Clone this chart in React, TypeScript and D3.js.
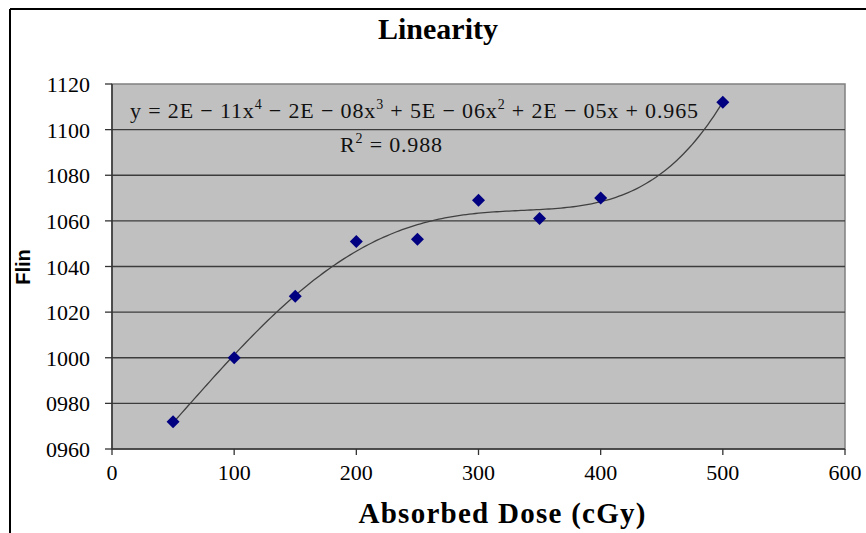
import { useMemo } from "react";
import * as d3 from "d3";

const W = 866, H = 533;
const M = { left: 112, top: 84, right: 845, bottom: 449 };

const doses = [50, 100, 150, 200, 250, 300, 350, 400, 500];
const flin = [972, 1000, 1027, 1051, 1052, 1069, 1061, 1070, 1112];
const xTicks = [0, 100, 200, 300, 400, 500, 600];
const yTicks = [960, 980, 1000, 1020, 1040, 1060, 1080, 1100, 1120];

const SERIF = "'Liberation Serif', 'Times New Roman', serif";
const SANS = "'Liberation Sans', Arial, sans-serif";

// least squares polynomial trendline (degree 4), x scaled by 1/100 for conditioning
function polyFit(xs: number[], ys: number[], deg: number) {
  const n = deg + 1;
  const A: number[][] = Array.from({ length: n }, () => new Array(n + 1).fill(0));
  xs.forEach((x0, k) => {
    const x = x0 / 100;
    for (let i = 0; i < n; i++) {
      for (let j = 0; j < n; j++) A[i][j] += Math.pow(x, i + j);
      A[i][n] += Math.pow(x, i) * ys[k];
    }
  });
  for (let c = 0; c < n; c++) {
    let p = c;
    for (let r = c + 1; r < n; r++) if (Math.abs(A[r][c]) > Math.abs(A[p][c])) p = r;
    [A[c], A[p]] = [A[p], A[c]];
    for (let r = 0; r < n; r++) {
      if (r === c) continue;
      const f = A[r][c] / A[c][c];
      for (let k = c; k <= n; k++) A[r][k] -= f * A[c][k];
    }
  }
  const coef = A.map((row, i) => row[n] / row[i]);
  return (x0: number) => coef.reduce((s, c, i) => s + c * Math.pow(x0 / 100, i), 0);
}

export default function App() {
  const x = d3.scaleLinear([0, 600], [M.left, M.right]);
  const y = d3.scaleLinear([960, 1120], [M.bottom, M.top]);
  const fit = useMemo(() => polyFit(doses, flin, 4), []);
  const trend = d3.range(50, 500.01, 2.5);
  const line = d3.line<number>().x((d) => x(d)).y((d) => y(fit(d)));
  const fmtY = d3.format("04d");
  const diamond = (cx: number, cy: number, r = 6.5) =>
    `M${cx},${cy - r}L${cx + r},${cy}L${cx},${cy + r}L${cx - r},${cy}Z`;

  return (
    <svg width={W} height={H} style={{ position: "absolute", left: 0, top: 0, background: "#fff" }}>
      {/* outer frame (cropped) */}
      <line x1={10} y1={9} x2={W} y2={9} stroke="#000" strokeWidth={2} />
      <line x1={10} y1={9} x2={10} y2={H} stroke="#000" strokeWidth={2} />

      <text x={438} y={39} textAnchor="middle" fontFamily={SERIF} fontWeight="bold" fontSize={30}>
        Linearity
      </text>

      {/* plot area */}
      <rect x={M.left} y={M.top} width={M.right - M.left} height={M.bottom - M.top} fill="#c0c0c0" stroke="#808080" strokeWidth={1.5} />
      {yTicks.slice(1, -1).map((t) => (
        <line key={t} x1={M.left} x2={M.right} y1={y(t)} y2={y(t)} stroke="#3c3c3c" strokeWidth={1.3} />
      ))}

      {/* axes */}
      <line x1={M.left} x2={M.left} y1={M.top} y2={M.bottom} stroke="#333" strokeWidth={1.5} />
      <line x1={M.left} x2={M.right} y1={M.bottom} y2={M.bottom} stroke="#333" strokeWidth={1.5} />
      {yTicks.map((t) => (
        <g key={t}>
          <line x1={M.left - 7} x2={M.left} y1={y(t)} y2={y(t)} stroke="#333" strokeWidth={1.3} />
          <text x={90} y={y(t) + 8} textAnchor="end" fontFamily={SERIF} fontSize={22}>
            {fmtY(t)}
          </text>
        </g>
      ))}
      {xTicks.map((t) => (
        <g key={t}>
          <line x1={x(t)} x2={x(t)} y1={M.bottom} y2={M.bottom + 6} stroke="#333" strokeWidth={1.3} />
          <text x={x(t)} y={480} textAnchor="middle" fontFamily={SERIF} fontSize={22}>
            {t}
          </text>
        </g>
      ))}

      {/* trendline */}
      <path d={line(trend) ?? ""} fill="none" stroke="#404040" strokeWidth={1.3} />

      {/* points */}
      {doses.map((d, i) => (
        <path key={d} d={diamond(x(d), y(flin[i]))} fill="#000080" />
      ))}

      {/* equation */}
      <text x={130} y={118} fontFamily={SERIF} fontSize={22} fill="#111" textLength={568} lengthAdjust="spacing">
        y = 2E − 11x<tspan fontSize={14} dy={-9}>4</tspan>
        <tspan dy={9}> − 2E − 08x</tspan><tspan fontSize={14} dy={-9}>3</tspan>
        <tspan dy={9}> + 5E − 06x</tspan><tspan fontSize={14} dy={-9}>2</tspan>
        <tspan dy={9}> + 2E − 05x + 0.965</tspan>
      </text>
      <text x={340} y={152} fontFamily={SERIF} fontSize={22} fill="#111" textLength={102} lengthAdjust="spacing">
        R<tspan fontSize={14} dy={-9}>2</tspan><tspan dy={9}> = 0.988</tspan>
      </text>

      {/* axis titles */}
      <text x={502} y={523} textAnchor="middle" fontFamily={SERIF} fontWeight="bold" fontSize={29} textLength={287} lengthAdjust="spacing">
        Absorbed Dose (cGy)
      </text>
      <text transform="translate(30,267) rotate(-90)" textAnchor="middle" fontFamily={SANS} fontWeight="bold" fontSize={20}>
        Flin
      </text>
    </svg>
  );
}
